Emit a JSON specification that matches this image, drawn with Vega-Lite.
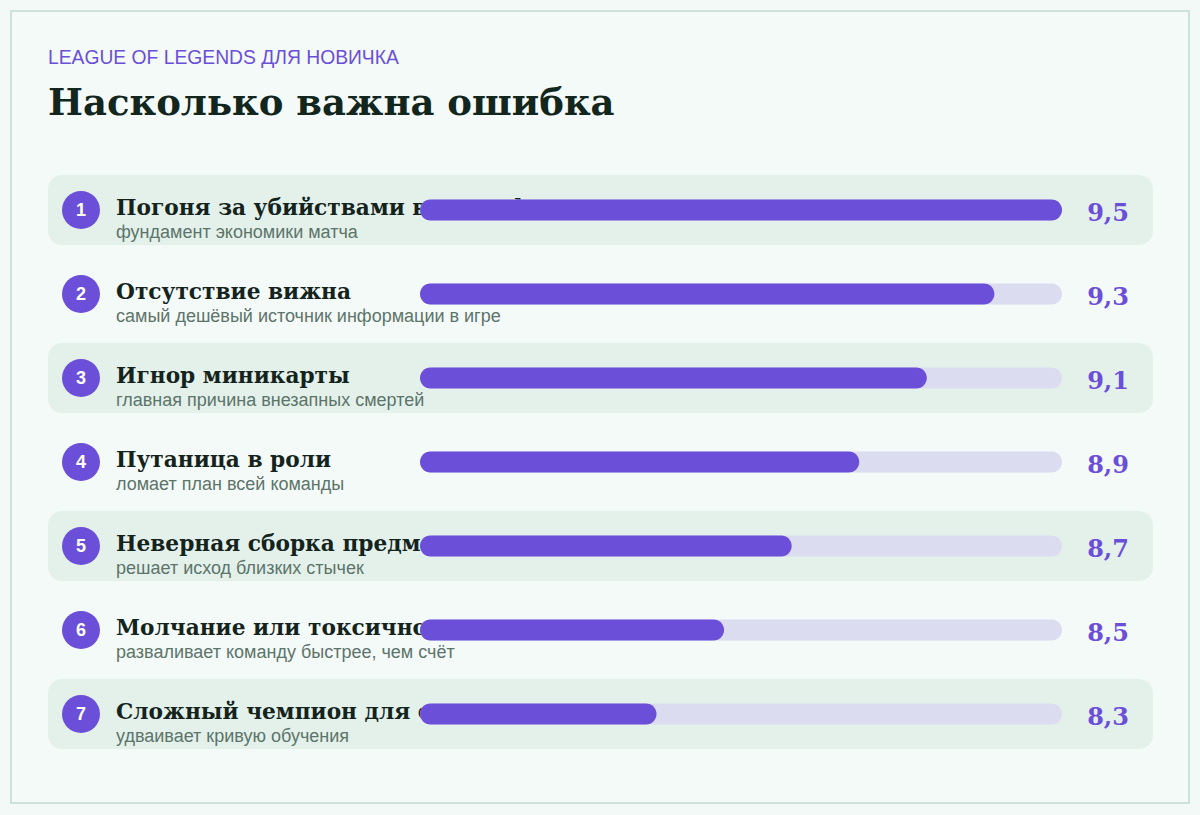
{
  "$schema": "https://vega.github.io/schema/vega-lite/v6.json",
  "width": 1200,
  "height": 815,
  "autosize": {"type": "fit", "contains": "padding"},
  "padding": {"left": 11, "top": 11, "right": 11, "bottom": 12},
  "background": "#f3f9f7",
  "config": {
    "view": {"stroke": "#cde3da", "strokeWidth": 2, "fill": "#f4faf8"},
    "locale": {"number": {"decimal": ",", "thousands": "\u00a0", "grouping": [3], "currency": ["", " ₽"]}}
  },
  "title": {
    "text": "LEAGUE OF LEGENDS ДЛЯ НОВИЧКА",
    "subtitle": "Насколько важна ошибка",
    "anchor": "start",
    "frame": "group",
    "orient": "top",
    "offset": -111,
    "dx": 37,
    "font": "Liberation Sans",
    "fontSize": 19.3,
    "fontWeight": "normal",
    "color": "#6b4fd8",
    "subtitleFont": "DejaVu Serif",
    "subtitleFontSize": 37,
    "subtitleFontWeight": "bold",
    "subtitleColor": "#12261d",
    "subtitlePadding": 18
  },
  "data": {
    "values": [
      {"rank": 1, "title": "Погоня за убийствами вместо фарма", "note": "фундамент экономики матча", "score": 9.5},
      {"rank": 2, "title": "Отсутствие вижна", "note": "самый дешёвый источник информации в игре", "score": 9.3},
      {"rank": 3, "title": "Игнор миникарты", "note": "главная причина внезапных смертей", "score": 9.1},
      {"rank": 4, "title": "Путаница в роли", "note": "ломает план всей команды", "score": 8.9},
      {"rank": 5, "title": "Неверная сборка предметов", "note": "решает исход близких стычек", "score": 8.7},
      {"rank": 6, "title": "Молчание или токсичность", "note": "разваливает команду быстрее, чем счёт", "score": 8.5},
      {"rank": 7, "title": "Сложный чемпион для старта", "note": "удваивает кривую обучения", "score": 8.3}
    ]
  },
  "encoding": {
    "y": {
      "field": "rank",
      "type": "ordinal",
      "scale": {"type": "band", "range": [157, 745], "paddingInner": 0.1667, "paddingOuter": 0.0833},
      "axis": null
    }
  },
  "layer": [
    {
      "transform": [{"filter": "datum.rank % 2 == 1"}],
      "mark": {"type": "rect", "color": "#e3f1ea", "cornerRadius": 14},
      "encoding": {"x": {"value": 37}, "x2": {"value": 1142}}
    },
    {
      "mark": {"type": "point", "filled": true, "shape": "circle", "size": 1444, "color": "#6b4fd8", "opacity": 1},
      "encoding": {"x": {"value": 70}}
    },
    {
      "mark": {"type": "text", "color": "#ffffff", "font": "Liberation Sans", "fontWeight": "bold", "fontSize": 18, "align": "center", "baseline": "middle", "dy": 1},
      "encoding": {"x": {"value": 70}, "text": {"field": "rank", "type": "ordinal"}}
    },
    {
      "mark": {"type": "text", "color": "#14231c", "font": "DejaVu Serif", "fontWeight": "bold", "fontSize": 21.7, "align": "left", "baseline": "alphabetic", "dy": 5},
      "encoding": {"x": {"value": 105}, "text": {"field": "title", "type": "nominal"}}
    },
    {
      "mark": {"type": "text", "color": "#5d746a", "font": "Liberation Sans", "fontSize": 18, "align": "left", "baseline": "alphabetic", "dy": 28},
      "encoding": {"x": {"value": 105}, "text": {"field": "note", "type": "nominal"}}
    },
    {
      "mark": {"type": "bar", "color": "#dcdcf1", "size": 21, "cornerRadius": 10.5},
      "encoding": {
        "x": {"datum": 7.6, "type": "quantitative", "scale": {"domain": [7.6, 9.5], "range": [409, 1051], "nice": false, "zero": false}, "axis": null},
        "x2": {"datum": 9.5}
      }
    },
    {
      "mark": {"type": "bar", "color": "#6b4fd8", "size": 21, "cornerRadius": 10.5},
      "encoding": {
        "x": {"field": "score", "type": "quantitative"},
        "x2": {"datum": 7.6}
      }
    },
    {
      "mark": {"type": "text", "color": "#6b4fd8", "font": "DejaVu Serif", "fontWeight": "bold", "fontSize": 24, "align": "center", "baseline": "alphabetic", "dy": 11},
      "encoding": {"x": {"value": 1097}, "text": {"field": "score", "type": "quantitative", "format": ".1f"}}
    }
  ]
}
